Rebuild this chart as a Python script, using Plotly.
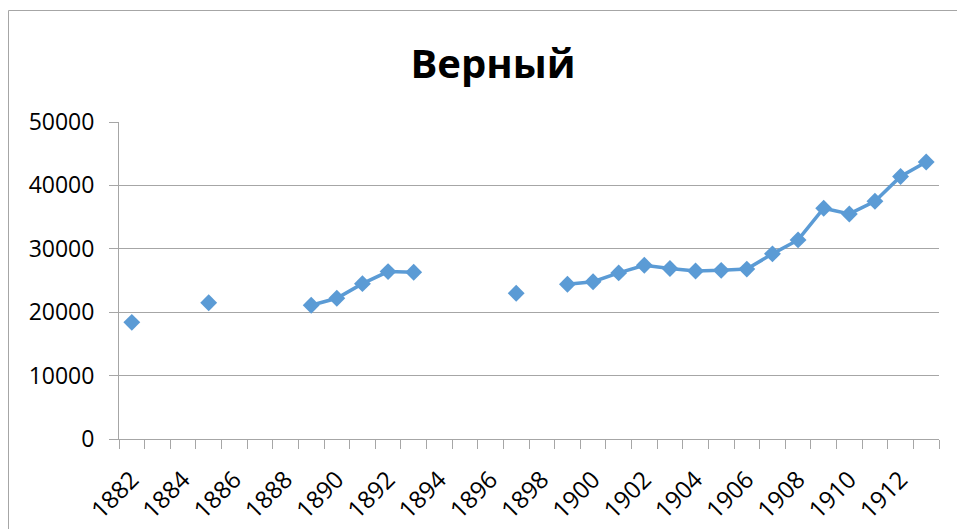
import plotly.graph_objects as go

years = list(range(1882, 1914))
population = [18400, None, None, 21500, None, None, None, 21100, 22200, 24500,
              26400, 26300, None, None, None, 23000, None, 24400, 24800, 26200,
              27400, 26900, 26500, 26600, 26800, 29200, 31400, 36400, 35500, 37500,
              41400, 43700]
tick_years = list(range(1882, 1913, 2))
title_text = "Верный"

font_family = "Open Sans, Liberation Sans, sans-serif"
grid_color = "#a6a6a6"

# page body has an 8px default margin, so the figure is drawn at (8, 8)
W, H = 957, 521

fig = go.Figure()
fig.add_trace(go.Scatter(
    x=years, y=population, mode="lines+markers", connectgaps=False,
    line=dict(color="#5b9bd5", width=3.5),
    marker=dict(symbol="diamond", size=13, color="#5b9bd5"),
    showlegend=False, hoverinfo="x+y",
))

fig.update_layout(
    width=W, height=H,
    margin=dict(l=111, r=26, t=114, b=90, autoexpand=False),
    paper_bgcolor="white", plot_bgcolor="white",
    title=dict(text="<b>%s</b>" % title_text, x=485 / W, xanchor="center",
               y=1 - 56 / H, yanchor="middle",
               font=dict(family=font_family, size=40, color="black")),
    font=dict(family=font_family, color="black"),
    xaxis=dict(
        range=[1881.5, 1913.5], tickmode="array", tickvals=tick_years,
        ticktext=[str(t) for t in tick_years], tickangle=-45,
        ticks="", showgrid=False, zeroline=False, automargin=False,
        showline=True, linecolor=grid_color, linewidth=1,
        tickfont=dict(size=24, family=font_family, color="black"),
        ticklabelstandoff=16,
        minor=dict(tick0=1881.5, dtick=1, ticks="outside", ticklen=9,
                   tickcolor=grid_color, tickwidth=1, showgrid=False),
    ),
    yaxis=dict(
        range=[0, 50000], dtick=10000, tickformat="d", automargin=False,
        showgrid=True, gridcolor=grid_color, gridwidth=1,
        zeroline=False, showline=True, linecolor=grid_color, linewidth=1,
        ticks="outside", ticklen=9, tickcolor=grid_color,
        tickfont=dict(size=23, family=font_family, color="black"),
        ticklabelstandoff=10,
    ),
    shapes=[dict(type="rect", xref="paper", yref="paper",
                 x0=(8.5 - 119) / 820, x1=1.2, y0=-0.5, y1=(439 - 10.5) / 317,
                 line=dict(color="#a6a6a6", width=1), layer="below")],
)

fig.write_html("out.html")
